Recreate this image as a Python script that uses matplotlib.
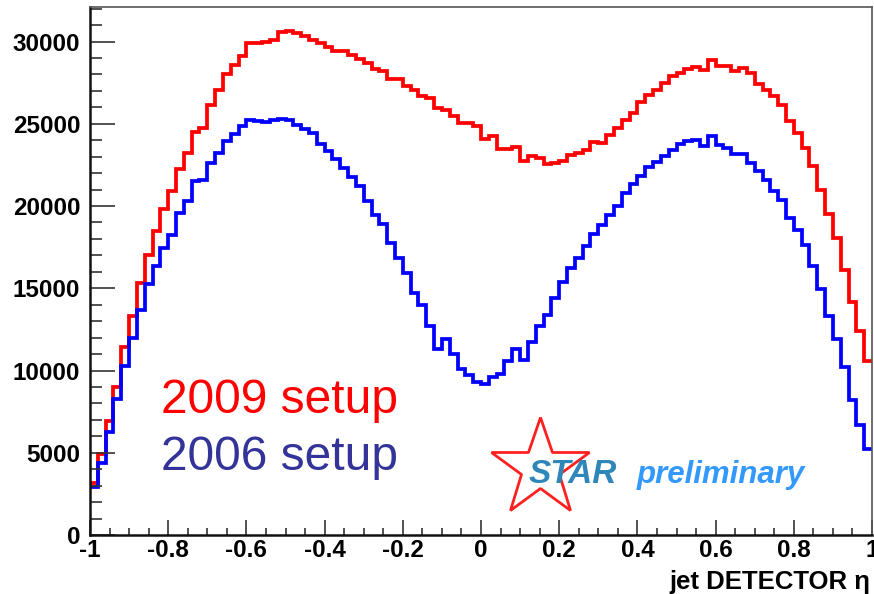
import numpy as np
import matplotlib
matplotlib.use("Agg")
import matplotlib.pyplot as plt
from matplotlib.ticker import MultipleLocator, FixedLocator, FixedFormatter

# ---------------- data ----------------
eta_edges = np.linspace(-1.0, 1.0, 101)

counts_2009 = [
    3180, 4910, 6960, 8990, 11400, 13330, 15300, 17040, 18500, 19820,
    20930, 22270, 23230, 24500, 24770, 26150, 27040, 28010, 28600, 29100,
    29920, 29920, 29980, 30120, 30590, 30630, 30530, 30330, 30120, 29920,
    29680, 29450, 29410, 29210, 28950, 28700, 28340, 28230, 27730, 27730,
    27320, 27040, 26710, 26570, 25960, 25820, 25450, 25070, 25050, 24890,
    24100, 24240, 23480, 23480, 23560, 22740, 23040, 22940, 22550, 22640,
    22720, 23120, 23200, 23380, 23870, 23810, 24340, 24750, 25230, 25660,
    26320, 26770, 27050, 27500, 27910, 28110, 28350, 28440, 28250, 28900,
    28500, 28540, 28190, 28400, 28090, 27440, 27080, 26670, 26170, 25150,
    24420, 23530, 22450, 20990, 19530, 18050, 16130, 14140, 12430, 10550,
]

counts_2006 = [
    2900, 4400, 6290, 8260, 10280, 11970, 13690, 15290, 16330, 17440,
    18250, 19570, 20320, 21500, 21580, 22620, 23230, 23980, 24400, 24890,
    25250, 25170, 25090, 25200, 25310, 25250, 24950, 24690, 24440, 23790,
    23320, 22860, 22310, 21770, 21190, 20280, 19470, 18920, 17750, 16840,
    15920, 14730, 14000, 12720, 11300, 11910, 11010, 10080, 9740, 9300,
    9190, 9600, 9800, 10550, 11300, 10610, 11760, 12720, 13390, 14420,
    15380, 16230, 16870, 17540, 18320, 18820, 19470, 19980, 20790, 21340,
    21850, 22350, 22670, 23040, 23380, 23790, 23980, 24000, 23630, 24280,
    23730, 23530, 23160, 23160, 22620, 22110, 21560, 20890, 20390, 19270,
    18560, 17650, 16380, 14950, 13290, 11910, 10200, 8210, 6690, 5200,
]

x_tick_values = [-1, -0.8, -0.6, -0.4, -0.2, 0, 0.2, 0.4, 0.6, 0.8, 1]
x_tick_labels = ["-1", "-0.8", "-0.6", "-0.4", "-0.2", "0", "0.2", "0.4", "0.6", "0.8", "1"]
y_tick_values = [0, 5000, 10000, 15000, 20000, 25000, 30000]
y_tick_labels = ["0", "5000", "10000", "15000", "20000", "25000", "30000"]

label_2009 = "2009 setup"
label_2006 = "2006 setup"
x_title = "jet DETECTOR η"

# ---------------- style ----------------
plt.rcParams['font.family'] = ['Liberation Sans', 'DejaVu Sans']
plt.rcParams['axes.unicode_minus'] = False

W, H = 874, 594
fig = plt.figure(figsize=(W / 100, H / 100), dpi=100)
ax = fig.add_axes([90 / W, 1 - 535 / H, (872 - 90) / W, (535 - 7) / H])

ax.stairs(counts_2009, eta_edges, color='#ff0000', linewidth=2.7, baseline=None)
ax.stairs(counts_2006, eta_edges, color='#0000ff', linewidth=2.7, baseline=None)

ax.set_xlim(-1, 1)
ax.set_ylim(0, 32100)

ax.xaxis.set_major_locator(FixedLocator(x_tick_values))
ax.xaxis.set_major_formatter(FixedFormatter(x_tick_labels))
ax.xaxis.set_minor_locator(MultipleLocator(0.05))
ax.yaxis.set_major_locator(FixedLocator(y_tick_values))
ax.yaxis.set_major_formatter(FixedFormatter(y_tick_labels))
ax.yaxis.set_minor_locator(MultipleLocator(1000))

ax.tick_params(axis='y', which='major', direction='in', length=18, width=1.2,
               color='#333333', pad=7, labelsize=17.5)
ax.tick_params(axis='y', which='minor', direction='in', length=8.5, width=1.2,
               color='#333333')
ax.tick_params(axis='x', which='major', direction='in', length=11, width=1.2,
               color='#333333', pad=3, labelsize=17.5)
ax.tick_params(axis='x', which='minor', direction='in', length=5, width=1.2,
               color='#333333')
for lab in ax.get_xticklabels() + ax.get_yticklabels():
    lab.set_fontweight('bold')

for side in ['left', 'bottom']:
    ax.spines[side].set_linewidth(1.8)
    ax.spines[side].set_color('#111111')
for side in ['top', 'right']:
    ax.spines[side].set_linewidth(1.2)
    ax.spines[side].set_color('#555555')

# axis title
fig.text(870 / W, 1 - 589 / H, x_title, ha='right', va='baseline',
         fontsize=18.5, fontweight='bold', color='black')

# legend texts
ax.text((161 - 90) / 782, (535 - 413) / 528, label_2009, transform=ax.transAxes,
        ha='left', va='baseline', fontsize=34.5, color='#ff0000')
ax.text((161 - 90) / 782, (535 - 470) / 528, label_2006, transform=ax.transAxes,
        ha='left', va='baseline', fontsize=34.5, color='#333399')

# STAR preliminary logo
ax.plot([(540 - 90) / 782], [(535 - 468) / 528], transform=ax.transAxes,
        marker='*', markersize=74, markerfacecolor='none',
        markeredgecolor='#ff2020', markeredgewidth=2.0, clip_on=False)
ax.text((529 - 90) / 782, (535 - 483) / 528, "STAR", transform=ax.transAxes,
        ha='left', va='baseline', fontsize=24, fontweight='bold',
        fontstyle='italic', color='#2f86b8')
ax.text((637 - 90) / 782, (535 - 483) / 528, "preliminary", transform=ax.transAxes,
        ha='left', va='baseline', fontsize=22.5, fontweight='bold',
        fontstyle='italic', color='#3399ff')

fig.savefig("out.png", dpi=100)
